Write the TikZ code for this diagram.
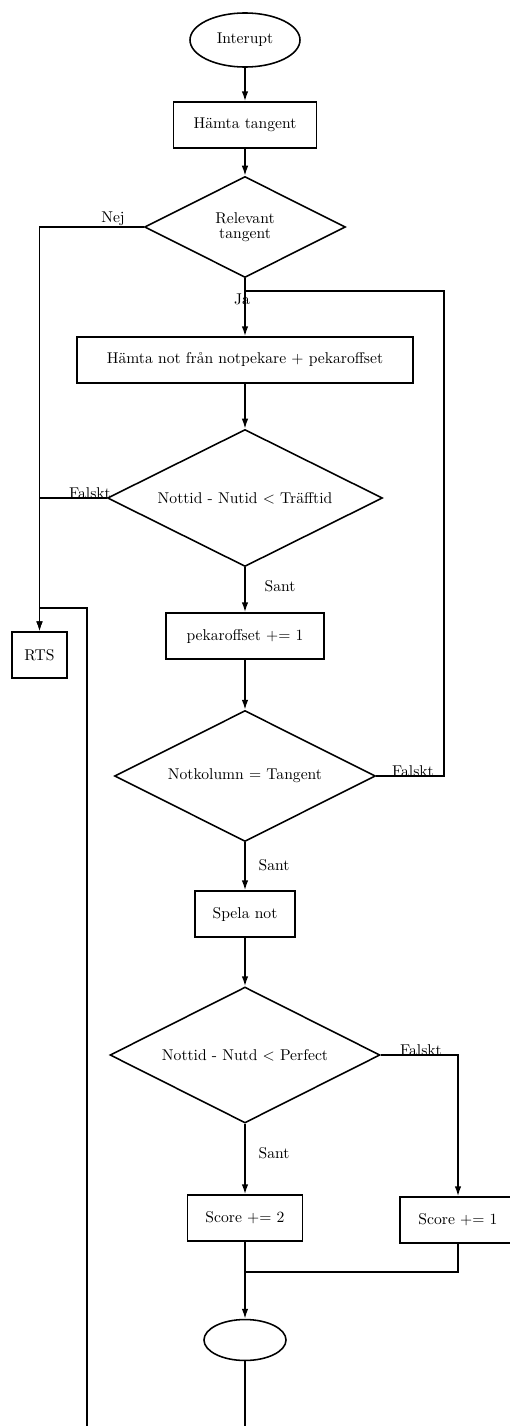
\documentclass[tikz,border=0pt]{standalone}
\usetikzlibrary{shapes.geometric,arrows.meta}

\tikzset{
  procbox/.style={draw, rectangle, line width=1pt, minimum height=29.4pt, inner sep=2pt},
  choice/.style={draw, diamond, line width=1pt, aspect=2, inner sep=0pt, align=center},
  termin/.style={draw, ellipse, line width=1pt, inner sep=0pt},
  flowline/.style={line width=1pt},
  flowarr/.style={line width=1pt, -{Latex[length=6.4pt,width=4.2pt]}},
  lbl/.style={inner sep=0pt}
}

\begin{document}
\begin{tikzpicture}[x=0.64pt, y=-0.64pt]
			%%%%% START %%%%%
			\useasboundingbox (0, 0) rectangle (510, 1426);
			
			\node[termin, minimum width=70.4pt, minimum height=34.6pt] (start) at (245, 40) {Interupt};
			\node[procbox, minimum width=91.5pt] (hamta) at (245, 125) {H\"amta tangent};
			\node[choice, minimum width=128.6pt, minimum height=64.6pt] (relevant) at (245, 227) {Relevant\\[-2pt] tangent};
			\node[procbox, minimum width=215pt] (hamtanot) at (245, 360) {H\"amta not fr\aa n notpekare + pekaroffset};
			\node[choice, minimum width=176pt, minimum height=87.7pt] (traff) at (245, 498) {Nottid - Nutid $<$ Tr\"afftid};
			\node[procbox, minimum width=101.1pt] (pek) at (245, 636) {pekaroffset += 1};
			\node[procbox, minimum width=35.2pt] (rts) at (39.5, 655) {RTS};
			\node[choice, minimum width=167pt, minimum height=83.8pt] (notk) at (245, 776) {Notkolumn = Tangent};
			\node[procbox, minimum width=64pt] (spela) at (245, 914) {Spela not};
			\node[choice, minimum width=172.8pt, minimum height=87pt] (perf) at (245, 1055) {Nottid - Nutd $<$ Perfect};
			\node[procbox, minimum width=73.6pt] (score2) at (245, 1218) {Score += 2};
			\node[procbox, minimum width=74.2pt] (score1) at (458, 1220) {Score += 1};
			\node[termin, minimum width=52.5pt, minimum height=26.2pt] (stop) at (245, 1340) {};
			
			% labels
			\node[lbl] (nej) at (113, 219) {Nej};
			\node[lbl] (ja) at (242, 299) {Ja};
			\node[lbl] (falskt1) at (90, 493) {Falskt};
			\node[lbl] (sant1) at (280, 586) {Sant};
			\node[lbl] (falskt2) at (413, 771) {Falskt};
			\node[lbl] (sant2) at (274, 865) {Sant};
			\node[lbl] (falskt3) at (421, 1050) {Falskt};
			\node[lbl] (sant3) at (274, 1153) {Sant};
			
			% helper points
			\coordinate (jaJoin) at (245, 291);
			\coordinate (loopR) at (444, 291);
			\coordinate (scoreJoin) at (245, 1272);
			\coordinate (rtsTop) at (39.5, 608);
			\coordinate (loopB) at (87, 1426);
			\coordinate (stopB) at (245, 1426);
			
			\draw[flowarr] (start) -- (hamta);
			\draw[flowarr] (hamta) -- (relevant);
			\draw[flowarr] (relevant.south) -- (hamtanot.north);
			\draw[flowarr] (relevant.west) -| (rts.north);
			\draw[flowline] (traff.west) -- (traff.west -| rts.north);
			\draw[flowarr] (hamtanot) -- (traff);
			\draw[flowarr] (traff.south) -- (pek.north);
			\draw[flowarr] (pek) -- (notk);
			\draw[flowline] (notk.east) -| (loopR) -- (jaJoin);
			\draw[flowarr] (notk.south) -- (spela.north);
			\draw[flowarr] (spela) -- (perf);
			\draw[flowarr] (perf.south) -- (score2.north);
			\draw[flowarr] (perf.east) -| (score1.north);
			\draw[flowarr] (score2.south) -- (stop.north);
			\draw[flowline] (score1.south) |- (scoreJoin);
			\draw[flowline] (stop.south) -- (stopB);
			\draw[flowarr] (loopB) |- (rtsTop) -- (rts.north);
			
			%%%%% END %%%%%
		\end{tikzpicture}
\end{document}
